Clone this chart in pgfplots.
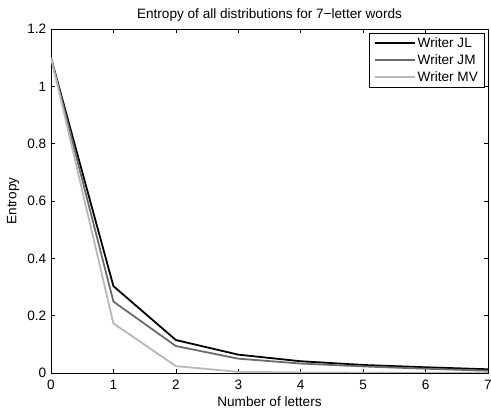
\documentclass[border=0pt]{standalone}
\usepackage{fontspec}
\setmainfont{Liberation Sans}
\usepackage{pgfplots}
\pgfplotsset{compat=1.18}
\definecolor{jm}{gray}{0.42}
\definecolor{mv}{gray}{0.72}
\newcommand{\fs}{\fontsize{13.6}{16}\selectfont}
\begin{document}
\fs
\begin{tikzpicture}
\begin{axis}[
  scale only axis,
  width=437pt, height=344pt,
  xmin=0, xmax=7, ymin=0, ymax=1.2,
  xtick={0,1,...,7},
  ytick={0,0.2,0.4,0.6,0.8,1,1.2},
  yticklabels={0,0.2,0.4,0.6,0.8,1,1.2},
  tick align=inside,
  major tick length=4pt,
  tick style={black, line width=0.6pt},
  axis line style={line width=0.8pt},
  /pgf/number format/assume math mode=true,
  tick label style={font=\fs},
  xticklabel style={yshift=-2pt},
  title={Entropy of all distributions for 7\textminus letter words},
  title style={font=\fs, yshift=-3pt},
  xlabel={Number of letters},
  ylabel={Entropy},
  label style={font=\fs},
  xlabel style={yshift=2pt},
  ylabel style={yshift=-1pt},
  legend style={at={(0.991,0.988)}, anchor=north east, draw=black,
    font=\fs, row sep=1.2pt, inner xsep=4pt, inner ysep=2pt},
  legend cell align=left,
  legend image code/.code={\draw[#1, line width=2pt] (0pt,0pt) -- (40pt,0pt);},
]
\addplot[black, line width=1.8pt] coordinates {(0,1.10) (1,0.303) (2,0.115) (3,0.064) (4,0.041) (5,0.028) (6,0.020) (7,0.013)};
\addplot[jm, line width=1.8pt] coordinates {(0,1.10) (1,0.249) (2,0.094) (3,0.050) (4,0.033) (5,0.023) (6,0.015) (7,0.008)};
\addplot[mv, line width=1.8pt] coordinates {(0,1.10) (1,0.173) (2,0.024) (3,0.004) (4,0.002) (5,0.001) (6,0.001) (7,0.0005)};
\legend{Writer JL, Writer JM, Writer MV}
\coordinate (SW) at (rel axis cs:0,0);
\coordinate (NE) at (rel axis cs:1,1);
\end{axis}
\pgfresetboundingbox
\path ([shift={(-51pt,-35pt)}]SW) rectangle ([shift={(3pt,29pt)}]NE);
\end{tikzpicture}
\end{document}
